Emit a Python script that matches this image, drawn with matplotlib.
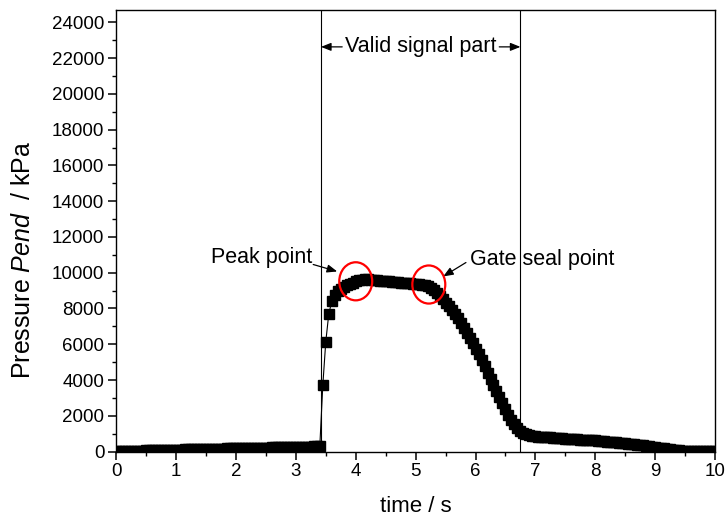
import matplotlib
matplotlib.use("Agg")
import matplotlib.pyplot as plt
import numpy as np
from matplotlib.patches import Ellipse
from matplotlib.ticker import MultipleLocator

plt.rcParams["font.family"] = ["Liberation Sans", "DejaVu Sans"]
plt.rcParams["mathtext.fontset"] = "custom"
plt.rcParams["mathtext.rm"] = "Liberation Sans"
plt.rcParams["mathtext.it"] = "Liberation Sans:italic"

# sampling step of the logged signal (s)
dt = 0.05

# pressure readings (kPa), one per sample starting at t = 0
baseline = [
    20, 25, 30, 30, 35, 40, 45, 50, 55, 55, 60,
    65, 70, 75, 75, 80, 85, 90, 95, 95, 100,
    105, 110, 115, 115, 120, 125, 130, 135, 135, 140,
    145, 150, 155, 155, 160, 165, 170, 175, 175, 180,
    185, 190, 195, 195, 200, 205, 210, 215, 215, 220,
    225, 230, 235, 235, 240, 245, 250, 255, 255, 260,
    265, 270, 275, 275, 280, 285, 290, 300,
]
rise = [
    3700, 6150, 7700, 8400, 8750, 8950, 9100, 9200, 9300, 9380,
    9450, 9520, 9580, 9620, 9640, 9630,
]
plateau = [
    9610, 9590, 9570, 9560, 9540, 9530, 9510, 9500, 9480, 9470,
    9450, 9440, 9420, 9410, 9390, 9380, 9360, 9340, 9300,
]
decline = [
    9250, 9150, 9020, 8870, 8700, 8520, 8330, 8130, 7920, 7690,
    7450, 7200, 6930, 6650, 6360, 6060, 5750, 5430, 5100, 4760,
    4410, 4060, 3710, 3370, 3030, 2700, 2380, 2070, 1780, 1520,
    1300, 1140, 1040, 970, 920, 880, 850,
]
tail = [
    840, 830, 815, 800, 790, 775, 760, 745, 730, 720,
    710, 700, 690, 680, 670, 660, 650, 640, 630, 620,
    605, 590, 575, 560, 545, 530, 515, 500, 480, 460,
    440, 420, 400, 380, 360, 340, 320, 295, 270, 245,
    220, 195, 170, 145, 120, 100, 80, 60, 45, 35,
    30, 30, 30, 30, 30, 30, 30, 30, 30, 30,
]

pressure = np.array(baseline + rise + plateau + decline + tail)
time = np.arange(len(pressure)) * dt

valid_start, valid_end = 3.42, 6.75
peak_xy = (4.00, 9520)
gate_xy = (5.22, 9340)

fig = plt.figure(figsize=(7.26, 5.19), dpi=100)
ax = fig.add_axes([0.160, 0.130, 0.825, 0.851])

ax.plot(time, pressure, color="black", lw=0.8, marker="s", ms=7.2,
        mec="black", mfc="black")

ax.axvline(valid_start, color="black", lw=0.8)
ax.axvline(valid_end, color="black", lw=0.8)

arrow = dict(arrowstyle="-|>,head_length=0.5,head_width=0.2", color="black",
             lw=0.9, mutation_scale=12, shrinkA=0, shrinkB=0)

ymid = 22630
ax.annotate("Valid signal part", xy=(valid_start, ymid), xytext=(5.085, ymid),
            ha="center", va="center", fontsize=15.5, arrowprops=arrow)
ax.annotate("Valid signal part", xy=(valid_end, ymid), xytext=(5.085, ymid),
            ha="center", va="center", fontsize=15.5, color="none",
            arrowprops=arrow)

ax.text(3.27, 10850, "Peak point", ha="right", va="center", fontsize=15.5)
ax.annotate("", xy=(3.69, 10070), xytext=(3.29, 10460), arrowprops=arrow)
ax.text(5.91, 10740, "Gate seal point", ha="left", va="center", fontsize=15.5)
ax.annotate("", xy=(5.46, 9790), xytext=(5.84, 10570), arrowprops=arrow)

for c in (peak_xy, gate_xy):
    ax.add_patch(Ellipse(c, width=0.55, height=2130, fill=False,
                         edgecolor="red", lw=1.6, zorder=5))

ax.set_xlim(0, 10)
ax.set_ylim(0, 24700)
ax.set_xticks(np.arange(0, 11, 1))
ax.set_yticks(np.arange(0, 24001, 2000))
ax.xaxis.set_minor_locator(MultipleLocator(0.5))
ax.yaxis.set_minor_locator(MultipleLocator(1000))
ax.tick_params(which="major", direction="out", length=6, width=1.1,
               labelsize=13.5, pad=2.5)
ax.tick_params(which="minor", direction="out", length=3, width=1.0)
ax.tick_params(top=False, right=False, which="both")
for s in ax.spines.values():
    s.set_linewidth(1.0)

ax.set_xlabel("time / s", fontsize=16)
ax.set_ylabel("Pressure $\\mathit{Pend}$  / kPa", fontsize=18)
ax.xaxis.set_label_coords(0.5, -0.1)
ax.yaxis.set_label_coords(-0.135, 0.434)
ax.xaxis.label.set_va("top")

fig.savefig("out.png", dpi=100)
